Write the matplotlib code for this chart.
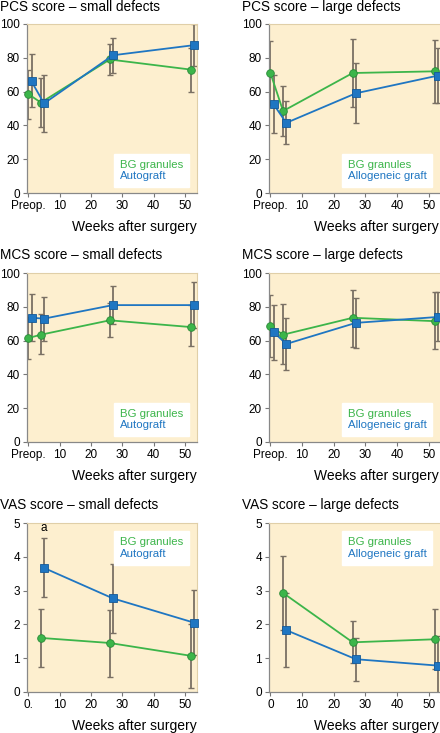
import matplotlib.pyplot as plt
from matplotlib.lines import Line2D

plt.rcParams['font.family'] = ['Liberation Sans', 'DejaVu Sans']

GREEN = '#3cb54a'
BLUE = '#1f76c2'
ERR = '#7a7064'
BG = '#fdefcf'

# weeks (BG granules slightly left, graft slightly right)
x_bg = [0, 4, 26, 52]
x_gr = [1, 5, 27, 53]
x_bg_vas = [4, 26, 52]
x_gr_vas = [5, 27, 53]

# PCS small defects
pcs_s_bg = [58.5, 53.5, 79, 73]
pcs_s_bg_lo = [44, 39, 70, 60]
pcs_s_bg_hi = [73, 68, 88, 86]
pcs_s_gr = [66, 53, 81.5, 87.5]
pcs_s_gr_lo = [51, 36, 71, 75]
pcs_s_gr_hi = [82, 70, 92, 100]

# PCS large defects
pcs_l_bg = [71, 48.5, 71, 72]
pcs_l_bg_lo = [52, 33.5, 51, 53]
pcs_l_bg_hi = [90, 63.5, 91, 90.5]
pcs_l_gr = [52.5, 41.5, 59, 69.5]
pcs_l_gr_lo = [35.5, 29, 41.5, 53]
pcs_l_gr_hi = [70, 54.5, 77, 86]

# MCS small defects
mcs_s_bg = [61.5, 63.5, 72, 68]
mcs_s_bg_lo = [49, 52, 62, 57]
mcs_s_bg_hi = [74, 75.5, 82, 81]
mcs_s_gr = [73.5, 73, 81, 81]
mcs_s_gr_lo = [60, 60, 70, 67.5]
mcs_s_gr_hi = [87.5, 86, 92.5, 94.5]

# MCS large defects
mcs_l_bg = [68.5, 63.5, 73.5, 71.5]
mcs_l_bg_lo = [50.5, 46, 56, 55]
mcs_l_bg_hi = [87, 81.5, 90, 88.5]
mcs_l_gr = [65, 58, 70.5, 74]
mcs_l_gr_lo = [48.5, 42.5, 55.5, 59.5]
mcs_l_gr_hi = [81, 73.5, 85.5, 88.5]

# VAS small defects
vas_s_bg = [1.6, 1.45, 1.07]
vas_s_bg_lo = [0.75, 0.45, 0.12]
vas_s_bg_hi = [2.45, 2.42, 2.0]
vas_s_gr = [3.67, 2.77, 2.05]
vas_s_gr_lo = [2.8, 1.75, 1.1]
vas_s_gr_hi = [4.57, 3.8, 3.02]

# VAS large defects
vas_l_bg = [2.93, 1.47, 1.56]
vas_l_bg_lo = [1.83, 0.85, 0.68]
vas_l_bg_hi = [4.03, 2.1, 2.45]
vas_l_gr = [1.83, 0.97, 0.78]
vas_l_gr_lo = [0.75, 0.33, -0.2]
vas_l_gr_hi = [2.93, 1.6, 1.65]

panels = [
    ('PCS score – small defects', 'Autograft', x_bg, pcs_s_bg, pcs_s_bg_lo, pcs_s_bg_hi,
     x_gr, pcs_s_gr, pcs_s_gr_lo, pcs_s_gr_hi),
    ('PCS score – large defects', 'Allogeneic graft', x_bg, pcs_l_bg, pcs_l_bg_lo, pcs_l_bg_hi,
     x_gr, pcs_l_gr, pcs_l_gr_lo, pcs_l_gr_hi),
    ('MCS score – small defects', 'Autograft', x_bg, mcs_s_bg, mcs_s_bg_lo, mcs_s_bg_hi,
     x_gr, mcs_s_gr, mcs_s_gr_lo, mcs_s_gr_hi),
    ('MCS score – large defects', 'Allogeneic graft', x_bg, mcs_l_bg, mcs_l_bg_lo, mcs_l_bg_hi,
     x_gr, mcs_l_gr, mcs_l_gr_lo, mcs_l_gr_hi),
    ('VAS score – small defects', 'Autograft', x_bg_vas, vas_s_bg, vas_s_bg_lo, vas_s_bg_hi,
     x_gr_vas, vas_s_gr, vas_s_gr_lo, vas_s_gr_hi),
    ('VAS score – large defects', 'Allogeneic graft', x_bg_vas, vas_l_bg, vas_l_bg_lo, vas_l_bg_hi,
     x_gr_vas, vas_l_gr, vas_l_gr_lo, vas_l_gr_hi),
]

W, H = 440, 733
fig = plt.figure(figsize=(W / 100, H / 100), dpi=100)

lefts = [27, 269]
widths = [170, 172]
tops = [24, 273, 523]
ah = 169
title_x = [0, 242]
title_y = [7, 255, 505]

for i, (title, graft, xb, yb, lb, hb, xg, yg, lg, hg) in enumerate(panels):
    row, col = divmod(i, 2)
    ax = fig.add_axes([lefts[col] / W, 1 - (tops[row] + ah) / H, widths[col] / W, ah / H])
    ax.set_facecolor(BG)
    vas = row == 2

    for xs, ys, lo, hi, c, m, ec in [(xb, yb, lb, hb, GREEN, 'o', '#2a8a38'),
                                     (xg, yg, lg, hg, BLUE, 's', '#165a98')]:
        err = [[y - l for y, l in zip(ys, lo)], [h - y for y, h in zip(ys, hi)]]
        ax.errorbar(xs, ys, yerr=err, fmt='none', ecolor=ERR, elinewidth=1.3,
                    capsize=2.5, capthick=1.0, zorder=2)
        ax.plot(xs, ys, color=c, lw=1.3, marker=m, markersize=5.5,
                markerfacecolor=c, markeredgecolor=ec, markeredgewidth=0.6, zorder=3,
                clip_on=False)

    ax.set_xlim(-0.45, 53.9)
    ax.set_xticks([0, 10, 20, 30, 40, 50])
    if vas:
        ax.set_ylim(0, 5)
        ax.set_yticks(range(6))
        ax.set_xticklabels(['0.' if col == 0 else '0', '10', '20', '30', '40', '50'])
    else:
        ax.set_ylim(0, 100)
        ax.set_yticks(range(0, 101, 20))
        ax.set_xticklabels(['Preop.', '10', '20', '30', '40', '50'])

    ax.tick_params(labelsize=8.5, length=3, width=0.8, color='#777777', pad=2)
    for s in ['left', 'bottom']:
        ax.spines[s].set_color('#888888')
        ax.spines[s].set_linewidth(0.9)
    for s in ['top', 'right']:
        ax.spines[s].set_color('#e0cfa8')
        ax.spines[s].set_linewidth(0.8)

    fig.text(title_x[col] / W, 1 - title_y[row] / H, title, fontsize=9.8,
             ha='left', va='center')
    ax.text(1.0 if col == 0 else 0.985, -0.2, 'Weeks after surgery', transform=ax.transAxes,
            fontsize=10, ha='right', va='center')

    handles = [Line2D([], [], linestyle='none'), Line2D([], [], linestyle='none')]
    leg = ax.legend(handles, ['BG granules', graft], loc='upper right' if vas else 'lower right',
                    bbox_to_anchor=(0.95, 0.95) if vas else (0.95, 0.035),
                    handlelength=0, handletextpad=0, fontsize=8.2, frameon=True,
                    fancybox=False, framealpha=1, edgecolor='white', borderpad=0.5,
                    labelspacing=0.15, borderaxespad=0)
    leg.get_texts()[0].set_color(GREEN)
    leg.get_texts()[1].set_color(BLUE)

    if i == 4:
        ax.text(5, 4.85, 'a', fontsize=8.5, ha='center', va='center')

fig.savefig('out.png', dpi=100)
